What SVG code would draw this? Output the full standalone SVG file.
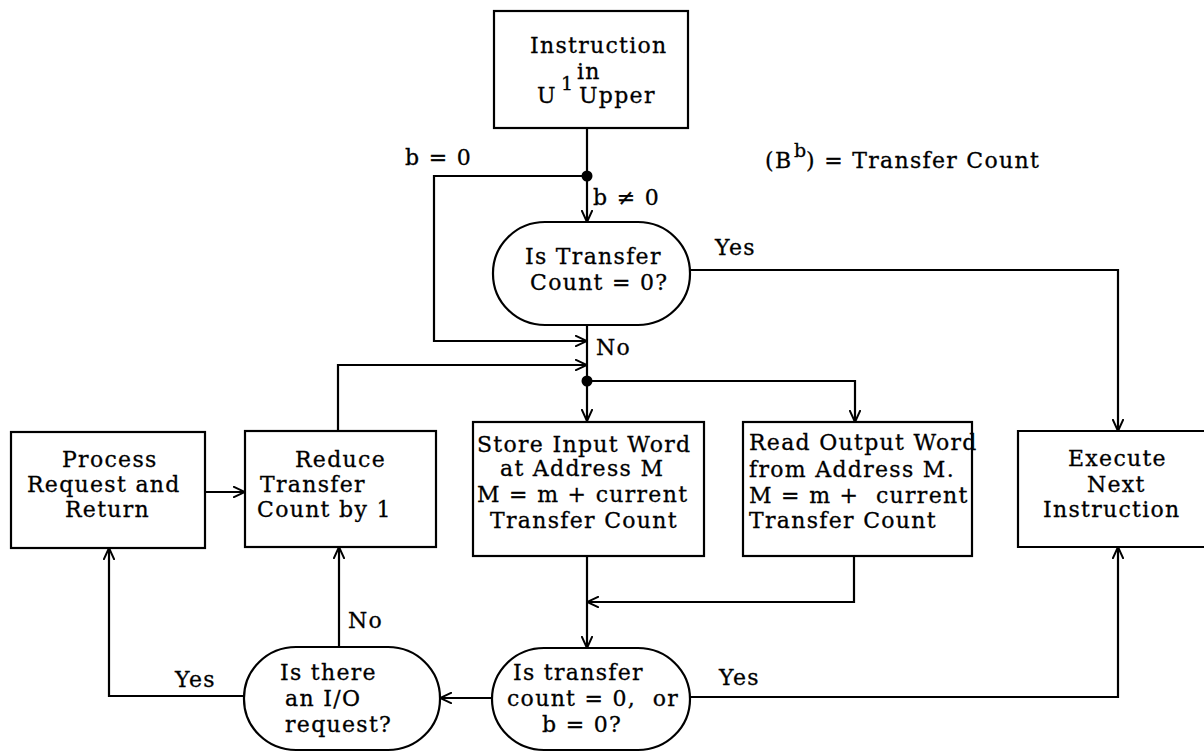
<svg xmlns="http://www.w3.org/2000/svg" width="1204" height="752" viewBox="0 0 1204 752">
<style>
.box{fill:#fff;stroke:#000;stroke-width:2.2}
.ln{fill:none;stroke:#000;stroke-width:2.2}
.t{font-family:"DejaVu Serif","Liberation Serif",serif;font-size:22px;letter-spacing:1.3px;fill:#000;stroke:#000;stroke-width:0.3}
.sup{font-family:"DejaVu Serif","Liberation Serif",serif;font-size:19px;fill:#000;stroke:#000;stroke-width:0.3}
</style>
<defs>
<marker id="arr" viewBox="0 0 12 12" refX="12" refY="6" markerWidth="12" markerHeight="12" markerUnits="userSpaceOnUse" orient="auto">
<path d="M0,0.5 L12,6 L0,11.5" fill="none" stroke="#000" stroke-width="2"/>
</marker>
</defs>
<rect width="1204" height="752" fill="#fff"/>

<g id="connectors">
<path class="ln" d="M587,128 V222" marker-end="url(#arr)"/>
<path class="ln" d="M587,176 H434 V341 H587" marker-end="url(#arr)"/>
<path class="ln" d="M587,325 V421" marker-end="url(#arr)"/>
<path class="ln" d="M690,270 H1118 V431" marker-end="url(#arr)"/>
<path class="ln" d="M338,431 V365 H587" marker-end="url(#arr)"/>
<path class="ln" d="M587,381 H855 V422" marker-end="url(#arr)"/>
<path class="ln" d="M587,556 V648" marker-end="url(#arr)"/>
<path class="ln" d="M854,556 V602 H587" marker-end="url(#arr)"/>
<path class="ln" d="M492,698 H440" marker-end="url(#arr)"/>
<path class="ln" d="M690,697 H1118 V547" marker-end="url(#arr)"/>
<path class="ln" d="M339,647 V547" marker-end="url(#arr)"/>
<path class="ln" d="M244,696 H109 V548" marker-end="url(#arr)"/>
<path class="ln" d="M205,492 H245" marker-end="url(#arr)"/>
<circle cx="587" cy="176" r="5.5" fill="#000"/>
<circle cx="587" cy="381" r="5.5" fill="#000"/>
<text class="t" x="405" y="165">b = 0</text>
<text class="t" x="593" y="205">b ≠ 0</text>
<text class="t" x="715" y="255">Yes</text>
<text class="t" x="596" y="355">No</text>
<text class="t" x="175" y="687">Yes</text>
<text class="t" x="348" y="628">No</text>
<text class="t" x="719" y="685">Yes</text>
</g>

<g id="note">
<text class="t" x="765" y="168">(B</text>
<text class="sup" x="794" y="157">b</text>
<text class="t" x="806" y="168">) = Transfer Count</text>
</g>

<g id="start">
<rect class="box" x="494" y="11" width="194" height="117"/>
<text class="t" x="530" y="53">Instruction</text>
<text class="t" x="577" y="79">in</text>
<text class="t" x="537" y="103">U</text>
<text class="sup" x="561" y="90">1</text>
<text class="t" x="579" y="103">Upper</text>
</g>

<g id="dec1">
<rect class="box" x="493" y="222" width="197" height="103" rx="52" ry="51"/>
<text class="t" x="525" y="264">Is Transfer</text>
<text class="t" x="530" y="290">Count = 0?</text>
</g>

<g id="process">
<rect class="box" x="11" y="432" width="194" height="116"/>
<text class="t" x="62" y="467">Process</text>
<text class="t" x="27" y="492">Request and</text>
<text class="t" x="65" y="517">Return</text>
</g>

<g id="reduce">
<rect class="box" x="245" y="431" width="191" height="116"/>
<text class="t" x="295" y="467">Reduce</text>
<text class="t" x="260" y="492">Transfer</text>
<text class="t" x="257" y="517">Count by 1</text>
</g>

<g id="store">
<rect class="box" x="473" y="422" width="231" height="134"/>
<text class="t" x="477" y="452">Store Input Word</text>
<text class="t" x="500" y="476">at Address M</text>
<text class="t" x="477" y="502">M = m + current</text>
<text class="t" x="490" y="528">Transfer Count</text>
</g>

<g id="read">
<rect class="box" x="743" y="422" width="229" height="134"/>
<text class="t" x="749" y="450">Read Output Word</text>
<text class="t" x="749" y="477">from Address M.</text>
<text class="t" x="749" y="503">M = m +&#160; current</text>
<text class="t" x="749" y="528">Transfer Count</text>
</g>

<g id="execute">
<path class="box" d="M1206,431 H1018 V547 H1206"/>
<text class="t" x="1068" y="466">Execute</text>
<text class="t" x="1087" y="492">Next</text>
<text class="t" x="1043" y="517">Instruction</text>
</g>

<g id="dec2">
<rect class="box" x="492" y="648" width="198" height="102" rx="52" ry="51"/>
<text class="t" x="513" y="680">Is transfer</text>
<text class="t" x="507" y="706">count = 0,&#160; or</text>
<text class="t" x="542" y="732">b = 0?</text>
</g>

<g id="dec3">
<rect class="box" x="244" y="647" width="196" height="103" rx="52" ry="51"/>
<text class="t" x="280" y="680">Is there</text>
<text class="t" x="285" y="706">an I/O</text>
<text class="t" x="285" y="732">request?</text>
</g>
</svg>
